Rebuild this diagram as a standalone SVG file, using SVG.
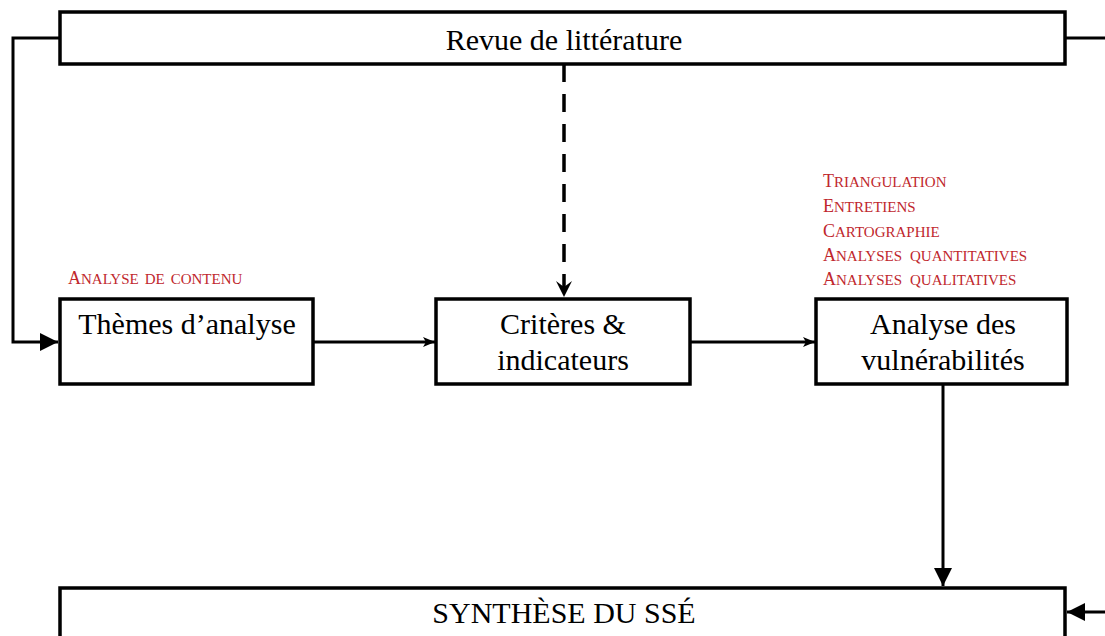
<svg xmlns="http://www.w3.org/2000/svg" width="1105" height="636" viewBox="0 0 1105 636">
<style>
.box{fill:#fff;stroke:#000;stroke-width:3.5}
.t{font-family:"Liberation Serif","Times New Roman",serif;font-size:30px;fill:#000;text-anchor:middle}
.r{font-family:"Liberation Serif","Times New Roman",serif;font-size:15px;fill:#c0272d}
.r .c{font-size:18px}
.ln{fill:none;stroke:#000;stroke-width:3}
.dash{fill:none;stroke:#000;stroke-width:3.5;stroke-dasharray:18 12}
</style>
<defs>
<marker id="big" markerUnits="userSpaceOnUse" markerWidth="20" markerHeight="20" refX="18" refY="9" orient="auto">
<path d="M0,0 L18,9 L0,18 Z" fill="#000"/>
</marker>
<marker id="small" markerUnits="userSpaceOnUse" markerWidth="14" markerHeight="12" refX="12" refY="5" orient="auto">
<path d="M0,0 L12,5 L0,10 L3,5 Z" fill="#000"/>
</marker>
<marker id="chev" markerUnits="userSpaceOnUse" markerWidth="18" markerHeight="18" refX="16" refY="8" orient="auto">
<path d="M0,0 L16,8 L0,16 L6,8 Z" fill="#000"/>
</marker>
</defs>
<g id="connectors">
<polyline class="ln" points="60,38 13,38 13,342 58,342" stroke-width="3.5" marker-end="url(#big)"/>
<line class="ln" x1="1065" y1="38" x2="1105" y2="38" stroke-width="3.5"/>
<line class="ln" x1="1105" y1="612" x2="1067" y2="612" stroke-width="3.5" marker-end="url(#big)"/>
<line class="dash" x1="564" y1="64" x2="564" y2="297" marker-end="url(#chev)"/>
<line class="ln" x1="313" y1="342" x2="435" y2="342" marker-end="url(#small)"/>
<line class="ln" x1="690" y1="342" x2="815" y2="342" marker-end="url(#small)"/>
<line class="ln" x1="943" y1="385" x2="943" y2="586" stroke-width="3.5" marker-end="url(#big)"/>
</g>
<g id="revue">
<rect class="box" x="60" y="12" width="1005" height="52"/>
<text class="t" x="564" y="50">Revue de littérature</text>
</g>
<g id="themes">
<rect class="box" x="60" y="299" width="253" height="85"/>
<text class="t" x="187" y="334">Thèmes d’analyse</text>
</g>
<g id="criteres">
<rect class="box" x="436" y="299" width="254" height="85"/>
<text class="t" x="563" y="334">Critères &amp;</text>
<text class="t" x="563" y="370">indicateurs</text>
</g>
<g id="vulnerabilites">
<rect class="box" x="816" y="299" width="251" height="85"/>
<text class="t" x="943" y="334">Analyse des</text>
<text class="t" x="943" y="370">vulnérabilités</text>
</g>
<g id="synthese">
<rect class="box" x="60" y="588" width="1005" height="50"/>
<text class="t" x="564" y="623">SYNTHÈSE DU SSÉ</text>
</g>
<g id="labels">
<text class="r" x="68" y="284"><tspan class="c">A</tspan>NALYSE<tspan dx="6">DE</tspan><tspan dx="6">CONTENU</tspan></text>
<text class="r" x="823" y="187"><tspan class="c">T</tspan>RIANGULATION</text>
<text class="r" x="823" y="212"><tspan class="c">E</tspan>NTRETIENS</text>
<text class="r" x="823" y="237"><tspan class="c">C</tspan>ARTOGRAPHIE</text>
<text class="r" x="823" y="261"><tspan class="c">A</tspan>NALYSES<tspan dx="8">QUANTITATIVES</tspan></text>
<text class="r" x="823" y="285"><tspan class="c">A</tspan>NALYSES<tspan dx="8">QUALITATIVES</tspan></text>
</g>
</svg>
